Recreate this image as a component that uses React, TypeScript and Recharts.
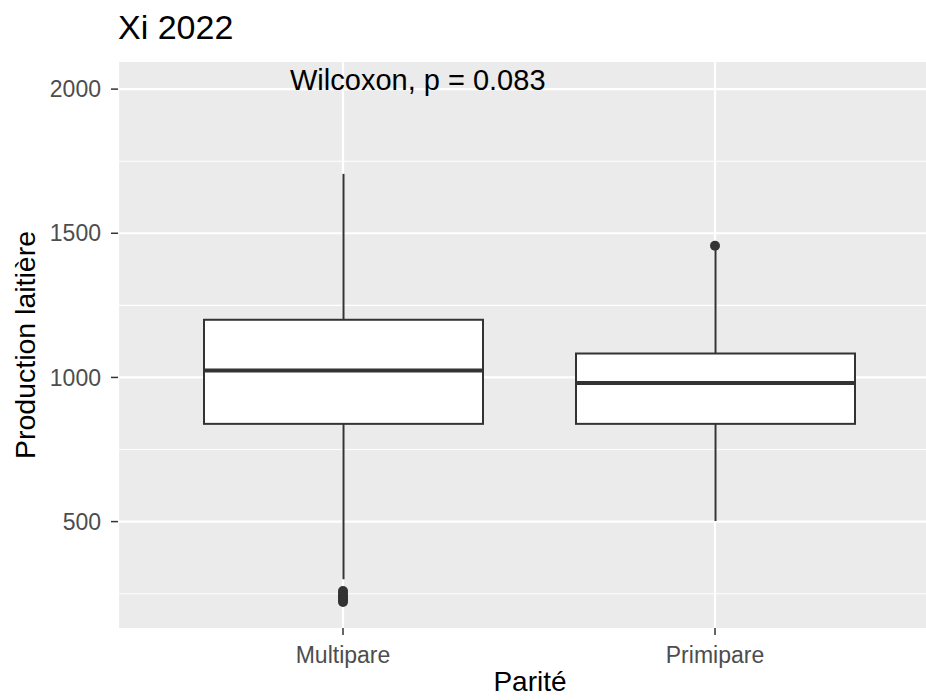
import React from "react";
import {
  ComposedChart,
  XAxis,
  YAxis,
  CartesianGrid,
  Bar,
  Scatter,
  ReferenceDot,
} from "recharts";

// ---- data ----
const categories = ["Multipare", "Primipare"];
const lowerWhisker = [300, 502];
const firstQuartile = [839, 839];
const medians = [1024, 981];
const thirdQuartile = [1200, 1083];
const upperWhisker = [1706, 1450];

const outlierCategories = [
  "Multipare",
  "Multipare",
  "Multipare",
  "Multipare",
  "Multipare",
  "Multipare",
  "Primipare",
];
const outlierValues = [221, 228, 235, 242, 250, 259, 1457];

const yTicks = [500, 1000, 1500, 2000];
const yMinorGrid = [250, 750, 1250, 1750];
const yDomain = [131, 2094];

const titleText = "Xi 2022";
const xTitle = "Parité";
const yTitle = "Production laitière";
const annotationText = "Wilcoxon, p = 0.083";
const annotationCategory = "Multipare";
const annotationValue = 2004;

// ---- tables built from the arrays ----
const rows = categories.map((cat, i) => ({
  cat,
  box: [firstQuartile[i], thirdQuartile[i]],
  q1: firstQuartile[i],
  q3: thirdQuartile[i],
  median: medians[i],
  lo: lowerWhisker[i],
  hi: upperWhisker[i],
}));

const outliers = outlierValues.map((v, i) => ({
  cat: outlierCategories[i],
  value: v,
}));

const FONT = '"Liberation Sans", Arial, Helvetica, sans-serif';
const INK = "#333333";

function BoxShape(props: any) {
  const { x, y, width, height, payload } = props;
  if (payload == null || height == null) return null;
  const span = payload.q3 - payload.q1;
  const pxPerUnit = height / span;
  const toY = (v: number) => y + (payload.q3 - v) * pxPerUnit;
  const cx = x + width / 2;
  const my = toY(payload.median);
  return (
    <g>
      <line x1={cx} x2={cx} y1={toY(payload.hi)} y2={y} stroke={INK} strokeWidth={2} />
      <line x1={cx} x2={cx} y1={y + height} y2={toY(payload.lo)} stroke={INK} strokeWidth={2} />
      <rect x={x} y={y} width={width} height={height} fill="#FFFFFF" stroke={INK} strokeWidth={2} />
      <line x1={x} x2={x + width} y1={my} y2={my} stroke={INK} strokeWidth={4} />
    </g>
  );
}

function OutlierDot(props: any) {
  const { cx, cy } = props;
  if (cx == null || cy == null) return null;
  return <circle cx={cx} cy={cy} r={5} fill={INK} />;
}

function AnnotationShape(props: any) {
  const { cx, cy } = props;
  if (cx == null || cy == null) return null;
  return (
    <text x={cx - 53} y={cy + 2} fontSize={29} fontFamily={FONT} fill="#000000" textAnchor="start">
      {annotationText}
    </text>
  );
}

export default function App() {
  return (
    <div
      style={{
        position: "fixed",
        left: 0,
        top: 0,
        width: 960,
        height: 700,
        overflow: "hidden",
        background: "#FFFFFF",
        fontFamily: FONT,
      }}
    >
      <div
        style={{
          position: "absolute",
          left: 118,
          top: 10,
          fontSize: 34,
          lineHeight: "34px",
          color: "#000000",
          fontFamily: FONT,
          zIndex: 2,
          whiteSpace: "nowrap",
        }}
      >
        {titleText}
      </div>
      <ComposedChart
        width={942}
        height={700}
        data={rows}
        margin={{ top: 62, right: 0, bottom: 0, left: 0 }}
      >
        <CartesianGrid
          fill="#EBEBEB"
          fillOpacity={1}
          stroke="#FFFFFF"
          strokeWidth={1.1}
          vertical={false}
          horizontalValues={yMinorGrid}
        />
        <CartesianGrid
          fill="none"
          stroke="#FFFFFF"
          strokeWidth={2.2}
          horizontalValues={yTicks}
        />
        <XAxis
          dataKey="cat"
          type="category"
          allowDuplicatedCategory={false}
          padding={{ left: 39, right: 41 }}
          height={72}
          axisLine={false}
          tickLine={{ stroke: INK, strokeWidth: 1.5 }}
          tickSize={7}
          tickMargin={12}
          tick={{ fill: "#4D4D4D", fontSize: 23, fontFamily: FONT }}
          label={{
            content: (p: any) => {
              const vb = p.viewBox || {};
              return (
                <text
                  x={vb.x + vb.width / 2}
                  y={vb.y + 63}
                  textAnchor="middle"
                  fontSize={28}
                  fontFamily={FONT}
                  fill="#000000"
                >
                  {xTitle}
                </text>
              );
            },
          }}
        />
        <YAxis
          type="number"
          domain={yDomain}
          allowDataOverflow
          ticks={yTicks}
          width={118}
          axisLine={false}
          tickLine={{ stroke: INK, strokeWidth: 1.5 }}
          tickSize={7}
          tickMargin={10}
          tick={{ fill: "#4D4D4D", fontSize: 23, fontFamily: FONT }}
          label={{
            content: (p: any) => {
              const vb = p.viewBox || {};
              const cx = vb.x + 35;
              const cy = vb.y + vb.height / 2;
              return (
                <text
                  x={cx}
                  y={cy}
                  transform={`rotate(-90 ${cx} ${cy})`}
                  textAnchor="middle"
                  fontSize={28.5}
                  fontFamily={FONT}
                  fill="#000000"
                >
                  {yTitle}
                </text>
              );
            },
          }}
        />
        <Bar dataKey="box" barSize={279} shape={BoxShape} isAnimationActive={false} />
        <Scatter
          data={outliers}
          dataKey="value"
          shape={OutlierDot}
          isAnimationActive={false}
        />
        <ReferenceDot
          x={annotationCategory}
          y={annotationValue}
          r={0}
          shape={AnnotationShape}
        />
      </ComposedChart>
    </div>
  );
}
